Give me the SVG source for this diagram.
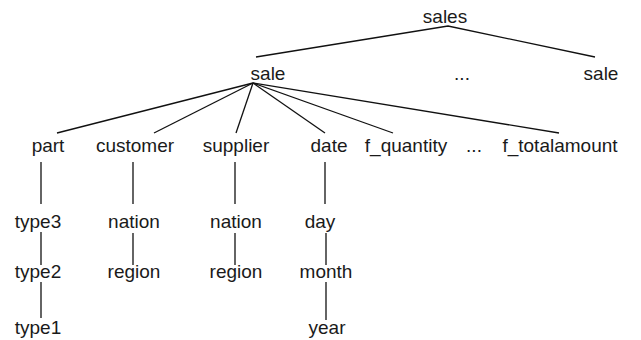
<svg xmlns="http://www.w3.org/2000/svg" width="641" height="340" viewBox="0 0 641 340">
<style>
text{font-family:"Liberation Sans",Arial,sans-serif;font-size:19px;fill:#1a1a1a;text-anchor:middle}
.c line,.c polyline{stroke:#111;stroke-width:1.3;fill:none}
</style>
<rect width="641" height="340" fill="#fff"/>
<g class="c" id="connectors">
<polyline points="256,57 448,26 595,57"/>
<line x1="253" y1="83" x2="57" y2="133"/>
<line x1="253" y1="83" x2="154" y2="133"/>
<line x1="253" y1="83" x2="236" y2="133"/>
<line x1="253" y1="83" x2="325" y2="133"/>
<line x1="253" y1="83" x2="393" y2="133"/>
<line x1="253" y1="83" x2="559" y2="133"/>
<line x1="41" y1="162" x2="41" y2="204"/>
<line x1="133" y1="162" x2="133" y2="204"/>
<line x1="235" y1="162" x2="235" y2="204"/>
<line x1="325" y1="162" x2="325" y2="204"/>
<line x1="41" y1="232" x2="41" y2="265"/>
<line x1="133" y1="233" x2="133" y2="265"/>
<line x1="235" y1="233" x2="235" y2="265"/>
<line x1="326" y1="233" x2="326" y2="265"/>
<line x1="41" y1="282" x2="41" y2="318"/>
<line x1="326" y1="282" x2="326" y2="320"/>
</g>
<g id="sales"><text x="445" y="23">sales</text></g>
<g id="sale1"><text x="268" y="80">sale</text></g>
<g id="dots1"><text x="462" y="80">...</text></g>
<g id="sale2"><text x="601" y="80">sale</text></g>
<g id="part"><text x="48" y="152">part</text></g>
<g id="customer"><text x="135" y="152">customer</text></g>
<g id="supplier"><text x="236" y="152">supplier</text></g>
<g id="date"><text x="329" y="152">date</text></g>
<g id="f_quantity"><text x="406" y="152">f_quantity</text></g>
<g id="dots2"><text x="474" y="152">...</text></g>
<g id="f_totalamount"><text x="560" y="152">f_totalamount</text></g>
<g id="type3"><text x="38" y="228">type3</text></g>
<g id="nation1"><text x="134" y="228">nation</text></g>
<g id="nation2"><text x="236" y="228">nation</text></g>
<g id="day"><text x="320" y="228">day</text></g>
<g id="type2"><text x="38" y="278">type2</text></g>
<g id="region1"><text x="134" y="278">region</text></g>
<g id="region2"><text x="236" y="278">region</text></g>
<g id="month"><text x="326" y="278">month</text></g>
<g id="type1"><text x="38" y="334">type1</text></g>
<g id="year"><text x="327" y="334">year</text></g>
</svg>
